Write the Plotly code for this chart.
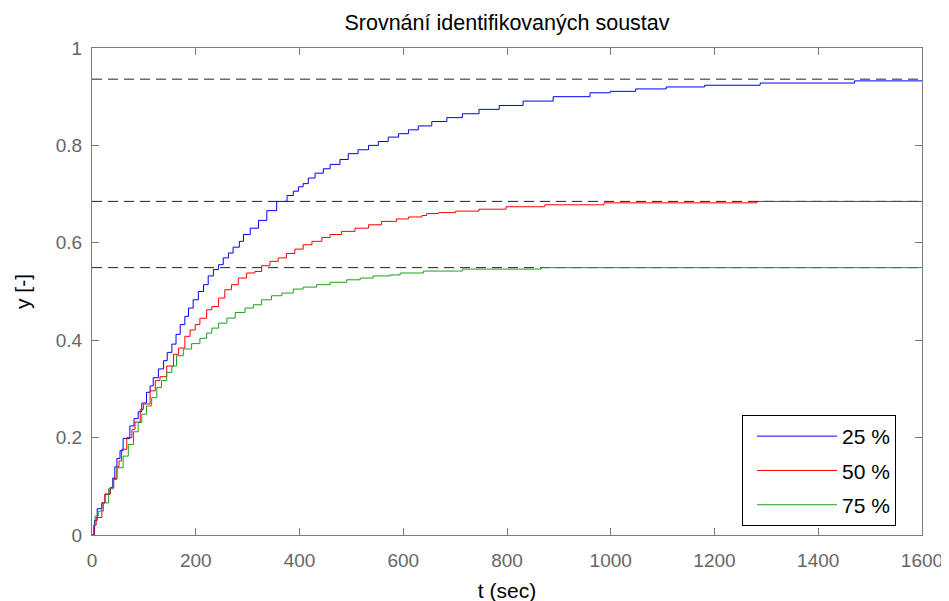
import plotly.graph_objects as go

# ---- data ----
t_25 = [0, 5, 10, 19, 25, 35, 40, 44, 48, 54, 60, 73, 81, 89, 96, 105, 112, 118, 128, 138, 145,
        154, 162, 170, 179, 186, 195, 205, 215, 224, 234, 244, 253, 263, 272, 284, 292, 305, 321,
        337, 356, 376, 388, 398, 407, 417, 430, 446, 459, 478, 494, 513, 533, 552, 571, 591, 610,
        629, 655, 684, 714, 746, 785, 831, 889, 960, 999, 1048, 1107, 1181, 1288, 1470, 1600]
y_25 = [0.0, 0.030, 0.054, 0.066, 0.084, 0.097, 0.117, 0.140, 0.157, 0.173, 0.198, 0.224, 0.239,
        0.253, 0.271, 0.293, 0.306, 0.323, 0.341, 0.358, 0.375, 0.392, 0.412, 0.432, 0.449, 0.466,
        0.483, 0.500, 0.514, 0.532, 0.545, 0.555, 0.569, 0.579, 0.591, 0.603, 0.617, 0.630, 0.646,
        0.666, 0.685, 0.697, 0.706, 0.715, 0.7215, 0.733, 0.743, 0.752, 0.761, 0.771, 0.783, 0.791,
        0.800, 0.808, 0.817, 0.824, 0.832, 0.840, 0.849, 0.857, 0.865, 0.874, 0.882, 0.891, 0.900,
        0.908, 0.911, 0.916, 0.920, 0.9235, 0.928, 0.9325, 0.9325]

t_50 = [0, 4, 8, 19, 25, 35, 42, 48, 52, 57, 67, 77, 83, 93, 99, 112, 122, 131, 144, 157, 167, 179,
        189, 199, 208, 221, 231, 244, 256, 269, 282, 298, 314, 327, 343, 359, 375, 391, 407, 424,
        443, 459, 481, 507, 533, 558, 587, 610, 636, 645, 668, 701, 746, 798, 873, 987, 1282, 1600]
y_50 = [0.0, 0.020, 0.036, 0.066, 0.084, 0.097, 0.116, 0.140, 0.152, 0.176, 0.200, 0.217, 0.232,
        0.258, 0.269, 0.296, 0.317, 0.325, 0.347, 0.371, 0.384, 0.408, 0.421, 0.432, 0.445,
        0.4625, 0.469, 0.4865, 0.5036, 0.514, 0.5276, 0.538, 0.541, 0.553, 0.562, 0.569, 0.578,
        0.587, 0.596, 0.603, 0.611, 0.617, 0.6235, 0.630, 0.637, 0.644, 0.649, 0.653, 0.656,
        0.660, 0.662, 0.665, 0.669, 0.674, 0.678, 0.682, 0.685, 0.685]

t_75 = [0, 3, 6, 12, 22, 32, 41, 48, 60, 70, 80, 89, 96, 105, 115, 125, 134, 144, 154, 163, 176,
        192, 208, 221, 231, 244, 260, 276, 295, 311, 327, 346, 366, 388, 407, 433, 459, 491, 517,
        542, 575, 594, 639, 714, 866, 1600]
y_75 = [0.0, 0.020, 0.039, 0.049, 0.066, 0.095, 0.114, 0.138, 0.162, 0.186, 0.212, 0.231, 0.248,
        0.265, 0.282, 0.303, 0.317, 0.334, 0.347, 0.368, 0.382, 0.393, 0.404, 0.4146, 0.4248,
        0.435, 0.4454, 0.457, 0.466, 0.4728, 0.483, 0.4913, 0.4968, 0.505, 0.509, 0.514, 0.519,
        0.524, 0.5276, 0.532, 0.534, 0.538, 0.542, 0.546, 0.549, 0.549]

steady_levels = [0.936, 0.685, 0.549]
series_names = ["25 %", "50 %", "75 %"]
series_colors = ["#0000ff", "#ff0000", "#1e9e1e"]
x_ticks = [0, 200, 400, 600, 800, 1000, 1200, 1400, 1600]
y_ticks = [0, 0.2, 0.4, 0.6, 0.8, 1]
y_tick_text = ["0", "0.2", "0.4", "0.6", "0.8", "1"]

FONT = "Liberation Sans, Arial, sans-serif"

fig = go.Figure()

for lvl in steady_levels:
    fig.add_trace(go.Scatter(x=[x_ticks[0], x_ticks[-1]], y=[lvl, lvl], mode="lines",
                             line=dict(color="#222222", width=1, dash="10px,6px"),
                             showlegend=False, hoverinfo="skip"))

for i, (t, y, name, col) in enumerate(zip([t_25, t_50, t_75], [y_25, y_50, y_75],
                                          series_names, series_colors)):
    fig.add_trace(go.Scatter(x=t, y=y, mode="lines", name=name, legendgroup=f"g{i}",
                             line=dict(color=col, width=1, shape="hv")))

axis_common = dict(showline=True, linecolor="#7a7a7a", linewidth=1, mirror="ticks",
                   ticks="inside", ticklen=7, tickcolor="#7a7a7a", showgrid=False,
                   zeroline=False, automargin=False, ticklabeloverflow="allow",
                   tickfont=dict(family=FONT, size=19, color="#666666"))

fig.update_layout(
    width=949, height=601,
    paper_bgcolor="white", plot_bgcolor="white",
    margin=dict(l=84, r=35, t=40, b=74),
    title=dict(text="Srovnání identifikovaných soustav", xref="paper", x=0.5, xanchor="center",
               yref="container", y=0.9767, yanchor="middle",
               font=dict(family=FONT, size=21.5, color="black")),
    xaxis=dict(range=[0, 1600], tickvals=x_ticks, ticktext=[str(v) for v in x_ticks],
               ticklabelstandoff=8,
               title=dict(text="t (sec)", font=dict(family=FONT, size=21, color="black"),
                          standoff=13),
               **axis_common),
    yaxis=dict(range=[0, 1], tickvals=y_ticks, ticktext=y_tick_text,
               ticklabelstandoff=5,
               title=dict(text="y [-]", font=dict(family=FONT, size=21, color="black"),
                          standoff=19),
               **axis_common),
    legend=dict(x=0.9687, y=0.0185, xanchor="right", yanchor="bottom",
                bgcolor="white", bordercolor="black", borderwidth=1,
                font=dict(family=FONT, size=21, color="black"),
                itemwidth=80, indentation=9, traceorder="grouped", tracegroupgap=4),
    showlegend=True,
)

fig.write_html("out.html")
